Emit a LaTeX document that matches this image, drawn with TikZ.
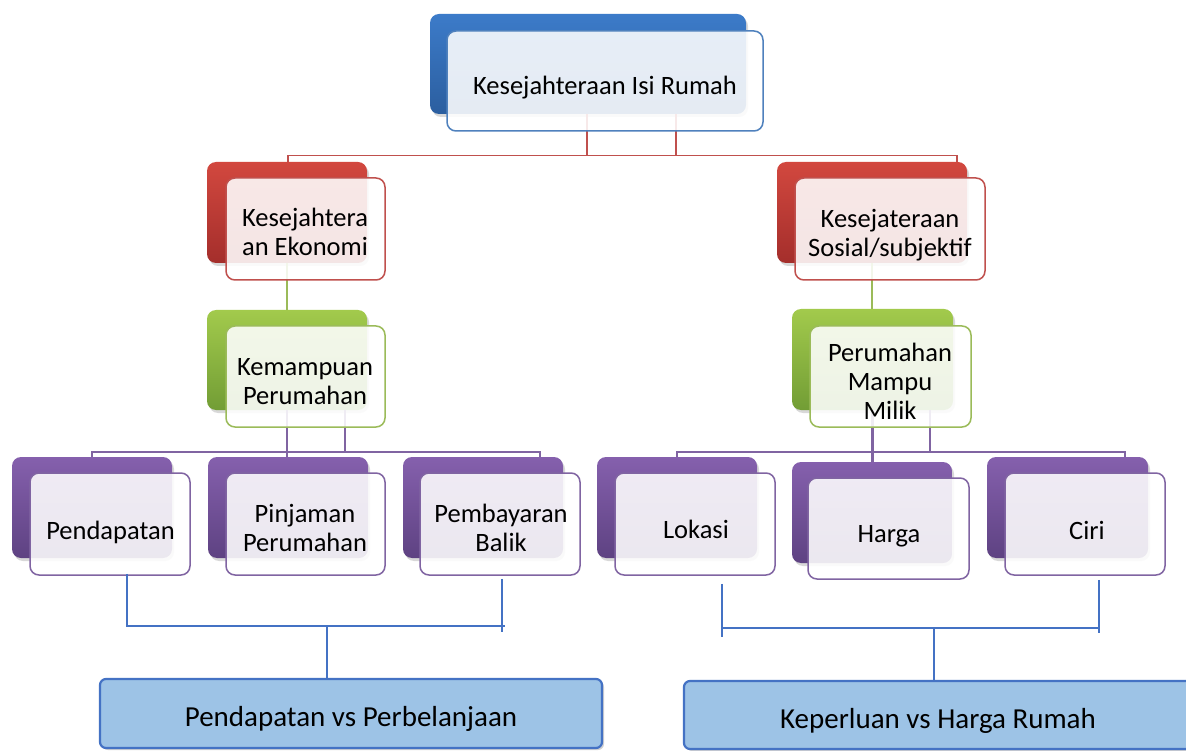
\documentclass[tikz,border=0pt]{standalone}
\usepackage{fontspec}
\setmainfont{Carlito}
\usetikzlibrary{shadows}
\definecolor{bTop}{HTML}{3C7BC9}
\definecolor{bBot}{HTML}{2B5E9F}
\definecolor{bEdge}{HTML}{4F81BD}
\definecolor{rTop}{HTML}{D2483F}
\definecolor{rBot}{HTML}{A42E2B}
\definecolor{rEdge}{HTML}{C0504D}
\definecolor{gTop}{HTML}{A2CA4C}
\definecolor{gBot}{HTML}{729D35}
\definecolor{gEdge}{HTML}{9BBB59}
\definecolor{pTop}{HTML}{8560AD}
\definecolor{pBot}{HTML}{5E4282}
\definecolor{pEdge}{HTML}{8064A2}
\definecolor{lineBlue}{HTML}{4472C4}
\definecolor{boxFill}{HTML}{9DC3E6}
\tikzset{
  backbox/.style={rectangle, rounded corners=9pt, inner sep=0pt, draw=none,
    drop shadow={shadow xshift=2pt, shadow yshift=-3pt, opacity=0.3}},
  frontbox/.style={rectangle, rounded corners=9pt, inner sep=0pt,
    fill=white, fill opacity=0.88, line width=1.5pt},
  lbl/.style={align=center, inner sep=0pt, text=black,
    font=\fontsize{26.5}{29}\selectfont},
  biglbl/.style={align=center, inner sep=0pt, text=black,
    font=\fontsize{29}{32}\selectfont},
  bottombox/.style={rectangle, rounded corners=6pt, inner sep=0pt,
    fill=boxFill, draw=lineBlue, line width=2.2pt,
    drop shadow={shadow xshift=2pt, shadow yshift=-2pt, opacity=0.35}},
  redl/.style={draw=rEdge, line width=1.4pt},
  grnl/.style={draw=gEdge, line width=1.4pt},
  purl/.style={draw=pEdge, line width=1.4pt},
  bluel/.style={draw=lineBlue, line width=1.4pt},
}
\begin{document}
\begin{tikzpicture}[x=1pt,y=-1pt]
\useasboundingbox (0,0) rectangle (1186,751);
\clip (0,0) rectangle (1186,751);
\fill[white] (0,0) rectangle (1186,751);

% ---------- back boxes ----------
\node[backbox, top color=bTop, bottom color=bBot, minimum width=316pt, minimum height=100pt] (tb) at (588,64) {};
\node[backbox, top color=rTop, bottom color=rBot, minimum width=160pt, minimum height=101pt] (rlb) at (287,212.5) {};
\node[backbox, top color=rTop, bottom color=rBot, minimum width=190pt, minimum height=101pt] (rrb) at (872,212.5) {};
\node[backbox, top color=gTop, bottom color=gBot, minimum width=160pt, minimum height=100pt] (glb) at (287,360) {};
\node[backbox, top color=gTop, bottom color=gBot, minimum width=161pt, minimum height=101pt] (grb) at (872.5,359.5) {};
\node[backbox, top color=pTop, bottom color=pBot, minimum width=160pt, minimum height=101pt] (p1b) at (92,507.5) {};
\node[backbox, top color=pTop, bottom color=pBot, minimum width=160pt, minimum height=101pt] (p2b) at (288,507.5) {};
\node[backbox, top color=pTop, bottom color=pBot, minimum width=160pt, minimum height=101pt] (p3b) at (483,507.5) {};
\node[backbox, top color=pTop, bottom color=pBot, minimum width=160pt, minimum height=101pt] (p4b) at (677,507.5) {};
\node[backbox, top color=pTop, bottom color=pBot, minimum width=160pt, minimum height=101pt] (p5b) at (872,512.5) {};
\node[backbox, top color=pTop, bottom color=pBot, minimum width=161pt, minimum height=101pt] (p6b) at (1067.5,507.5) {};

% ---------- bottom boxes ----------
\node[bottombox, minimum width=502pt, minimum height=69pt] (bl) at (351,713.5) {};
\node[bottombox, minimum width=520pt, minimum height=68pt] (br) at (944,715) {};

% ---------- connectors ----------
\path (tb.south) ++(-1,0) coordinate (a1);
\path (tb.south) ++(88,0) coordinate (a2);
\path (rlb.north) ++(1,-6) coordinate (h1);
\path (rrb.north) ++(85,-6) coordinate (h2);
\draw[redl] (a1) -- (a1 |- h1);
\draw[redl] (a2) -- (a2 |- h1);
\draw[redl] (h1 |- rlb.north) -- (h1) -- (h2) -- (h2 |- rrb.north);

\draw[grnl] (rlb.south) -- (rlb.south |- glb.north);
\draw[grnl] (rrb.south) -- (rrb.south |- grb.north);

\path (glb.south) ++(58,0) coordinate (g2);
\path (p1b.north) ++(0,-5) coordinate (pl1);
\path (p3b.north) ++(57,-5) coordinate (pl3);
\draw[purl] (glb.south) -- (glb.south |- p2b.north);
\draw[purl] (g2) -- (g2 |- pl1);
\draw[purl] (p1b.north) -- (pl1) -- (pl3) -- (pl3 |- p3b.north);

\path (grb.south) ++(57.5,0) coordinate (g4);
\path (p4b.north) ++(0,-5) coordinate (pr1);
\path (p6b.north) ++(57.5,-5) coordinate (pr3);
\draw[purl, line width=2.6pt] (grb.south) -- (grb.south |- p5b.north);
\draw[purl] (g4) -- (g4 |- pr1);
\draw[purl] (p4b.north) -- (pr1) -- (pr3) -- (pr3 |- p6b.north);

% ---------- front boxes ----------
\node[frontbox, draw=bEdge, minimum width=316pt, minimum height=100pt] (tf) at (605,81) {};
\node[frontbox, draw=rEdge, minimum width=159pt, minimum height=102pt] (rlf) at (305.5,229) {};
\node[frontbox, draw=rEdge, minimum width=190pt, minimum height=102pt] (rrf) at (890,229) {};
\node[frontbox, draw=gEdge, minimum width=159pt, minimum height=101pt] (glf) at (305.5,376.5) {};
\node[frontbox, draw=gEdge, minimum width=161pt, minimum height=101pt] (grf) at (890.5,376.5) {};
\node[frontbox, draw=pEdge, minimum width=160pt, minimum height=102pt] (p1f) at (110,524) {};
\node[frontbox, draw=pEdge, minimum width=159pt, minimum height=102pt] (p2f) at (305.5,524) {};
\node[frontbox, draw=pEdge, minimum width=160pt, minimum height=102pt] (p3f) at (500,524) {};
\node[frontbox, draw=pEdge, minimum width=160pt, minimum height=102pt] (p4f) at (695,524) {};
\node[frontbox, draw=pEdge, minimum width=161pt, minimum height=101pt] (p5f) at (888.5,528.5) {};
\node[frontbox, draw=pEdge, minimum width=160pt, minimum height=102pt] (p6f) at (1085,524) {};

% ---------- blue brackets ----------
\path (p1f.south) ++(17,-2) coordinate (b1);
\path (p3f.south) ++(2,3) coordinate (b3);
\path (bl.north) ++(-24,-52) coordinate (bm);
\draw[bluel] (b1) -- (b1 |- bm) -- (b3 |- bm) -- ++(3,0);
\draw[bluel] (b3) -- ++(0,53);
\draw[bluel] (bm) -- (bm |- bl.north);

\path (p4f.south) ++(27,8) coordinate (b4);
\path (p6f.south) ++(14,4) coordinate (b6);
\path (br.north) ++(-10,-52) coordinate (bm2);
\draw[bluel] (b4) -- ++(0,53);
\draw[bluel] (b4 |- bm2) -- (b6 |- bm2);
\draw[bluel] (b6) -- ++(0,53);
\draw[bluel] (bm2) -- (bm2 |- br.north);

% ---------- texts ----------
\node[lbl] (t0) at (605,88) {Kesejahteraan Isi Rumah};
\node[lbl] (t1) at (305,232) {Kesejahtera\\an Ekonomi};
\node[lbl] (t2) at (890,235) {Kesejateraan\\Sosial/subjektif};
\node[lbl] (t3) at (305,382) {Kemampuan\\Perumahan};
\node[lbl] (t4) at (890,381.5) {Perumahan\\Mampu\\Milik};
\node[lbl] (t5) at (110.5,532) {Pendapatan};
\node[lbl] (t6) at (305,528) {Pinjaman\\Perumahan};
\node[lbl] (t7) at (501,528) {Pembayaran\\Balik};
\node[lbl] (t8) at (696,529.5) {Lokasi};
\node[lbl] (t9) at (889,536.5) {Harga};
\node[lbl] (t10) at (1087,530.5) {Ciri};
\node[biglbl] (t11) at (351,719) {Pendapatan vs Perbelanjaan};
\node[biglbl] (t12) at (938,721) {Keperluan vs Harga Rumah};
\end{tikzpicture}
\end{document}
